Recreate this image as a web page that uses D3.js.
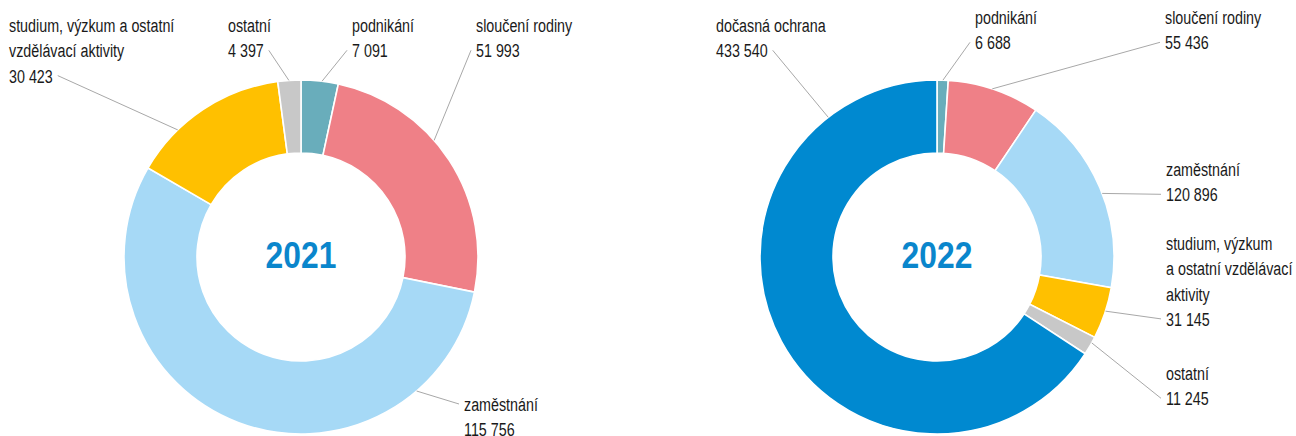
<!DOCTYPE html>
<html lang="cs">
<head>
<meta charset="utf-8">
<script src="https://cdn.jsdelivr.net/npm/d3@7"></script>
<style>
  html, body { margin: 0; padding: 0; background: #ffffff; }
  svg { display: block; }
  .lbl { font-family: "Liberation Sans", Arial, sans-serif; font-size: 18px; fill: #1a1a1a; }
  .year { font-family: "Liberation Sans", Arial, sans-serif; font-size: 37px; font-weight: bold; fill: #0a86cc; }
</style>
</head>
<body>
<svg id="chart" width="1296" height="436"></svg>
<script>
// Povolení k pobytu podle účelu – 2021 a 2022
const years = ["2021", "2022"];

const categories2021 = ["podnikání", "sloučení rodiny", "zaměstnání", "studium, výzkum a ostatní vzdělávací aktivity", "ostatní"];
const values2021 = [7091, 51993, 115756, 30423, 4397];

const categories2022 = ["podnikání", "sloučení rodiny", "zaměstnání", "studium, výzkum a ostatní vzdělávací aktivity", "ostatní", "dočasná ochrana"];
const values2022 = [6688, 55436, 120896, 31145, 11245, 433540];

const colorCategories = ["podnikání", "sloučení rodiny", "zaměstnání", "studium, výzkum a ostatní vzdělávací aktivity", "ostatní", "dočasná ochrana"];
const colorRange = ["#69adbb", "#ef8087", "#a6d9f6", "#ffc000", "#c8c8c8", "#0089d0"];

// Label placement for each donut: text lines, first baseline, side the leader leaves from,
// and where along its slice the leader meets the ring (0 = slice start, 1 = slice end).
const layout2021 = {
  cx: 301, cy: 257,
  labels: [
    { lines: ["podnikání"], x: 352, y: 32, side: "left", t: 0.56 },
    { lines: ["sloučení rodiny"], x: 476, y: 32, side: "left", t: 0.41 },
    { lines: ["zaměstnání"], x: 464, y: 411, side: "left", t: 0.19, attach: 0 },
    { lines: ["studium, výzkum a ostatní", "vzdělávací aktivity"], x: 9, y: 32, side: "right", t: 0.30 },
    { lines: ["ostatní"], x: 228, y: 32, side: "right", t: 0.48 }
  ]
};
const layout2022 = {
  cx: 937, cy: 257,
  labels: [
    { lines: ["podnikání"], x: 975, y: 24, side: "left", t: 0.53 },
    { lines: ["sloučení rodiny"], x: 1165, y: 24, side: "left", t: 0.48 },
    { lines: ["zaměstnání"], x: 1166, y: 176, side: "left", t: 0.53 },
    { lines: ["studium, výzkum", "a ostatní vzdělávací", "aktivity"], x: 1166, y: 250, side: "left", t: 0.46 },
    { lines: ["ostatní"], x: 1166, y: 380, side: "left", t: 0.33 },
    { lines: ["dočasná ochrana"], x: 716, y: 32, side: "right", t: 0.84 }
  ]
};

const outerR = 177, innerR = 104, lineH = 25.3;
// horizontal squeeze giving the condensed look of the typeface
const labelSqueeze = 0.795, yearSqueeze = 0.86;

const color = d3.scaleOrdinal().domain(colorCategories).range(colorRange);
const fmt = d3.formatLocale({ decimal: ",", thousands: " ", grouping: [3], currency: ["", " Kč"] }).format(",d");

const svg = d3.select("#chart");

function drawDonut(year, categories, values, layout) {
  const data = categories.map((c, i) => ({ category: c, value: values[i] }));
  const pie = d3.pie().value(d => d.value).sort(null);
  const arcs = pie(data);
  const arc = d3.arc().innerRadius(innerR).outerRadius(outerR);

  const g = svg.append("g").attr("transform", `translate(${layout.cx},${layout.cy})`);

  g.selectAll("path.slice")
    .data(arcs)
    .join("path")
    .attr("class", "slice")
    .attr("d", arc)
    .attr("fill", d => color(d.data.category))
    .attr("stroke", "#ffffff")
    .attr("stroke-width", 1.6)
    .attr("stroke-linejoin", "miter");

  g.append("g")
    .attr("transform", `scale(${yearSqueeze},1)`)
    .append("text")
    .attr("class", "year")
    .attr("text-anchor", "middle")
    .attr("x", 0)
    .attr("y", 11)
    .text(year);

  // labels with leader lines
  const labelLayer = svg.append("g");
  const lineLayer = labelLayer.append("g");
  arcs.forEach((a, i) => {
    const spec = layout.labels[i];
    const lines = spec.lines.concat([fmt(a.data.value)]);
    const text = labelLayer.append("g")
      .attr("transform", `translate(${spec.x},0) scale(${labelSqueeze},1)`)
      .append("text").attr("class", "lbl");
    lines.forEach((ln, k) => {
      text.append("tspan").attr("x", 0).attr("y", spec.y + k * lineH).text(ln);
    });
    const attachIdx = spec.attach !== undefined ? spec.attach : lines.length - 1;
    const tspan = text.selectAll("tspan").nodes()[attachIdx];
    const by = spec.y + attachIdx * lineH - 7;
    const bx = spec.side === "left"
      ? spec.x - 5
      : spec.x + tspan.getComputedTextLength() * labelSqueeze + 5;
    const ang = a.startAngle + spec.t * (a.endAngle - a.startAngle);
    const ex = layout.cx + Math.sin(ang) * outerR;
    const ey = layout.cy - Math.cos(ang) * outerR;
    lineLayer.append("line")
      .attr("x1", bx).attr("y1", by)
      .attr("x2", ex).attr("y2", ey)
      .attr("stroke", "#a8a8a8")
      .attr("stroke-width", 1);
  });
}

drawDonut(years[0], categories2021, values2021, layout2021);
drawDonut(years[1], categories2022, values2022, layout2022);
</script>
</body>
</html>
